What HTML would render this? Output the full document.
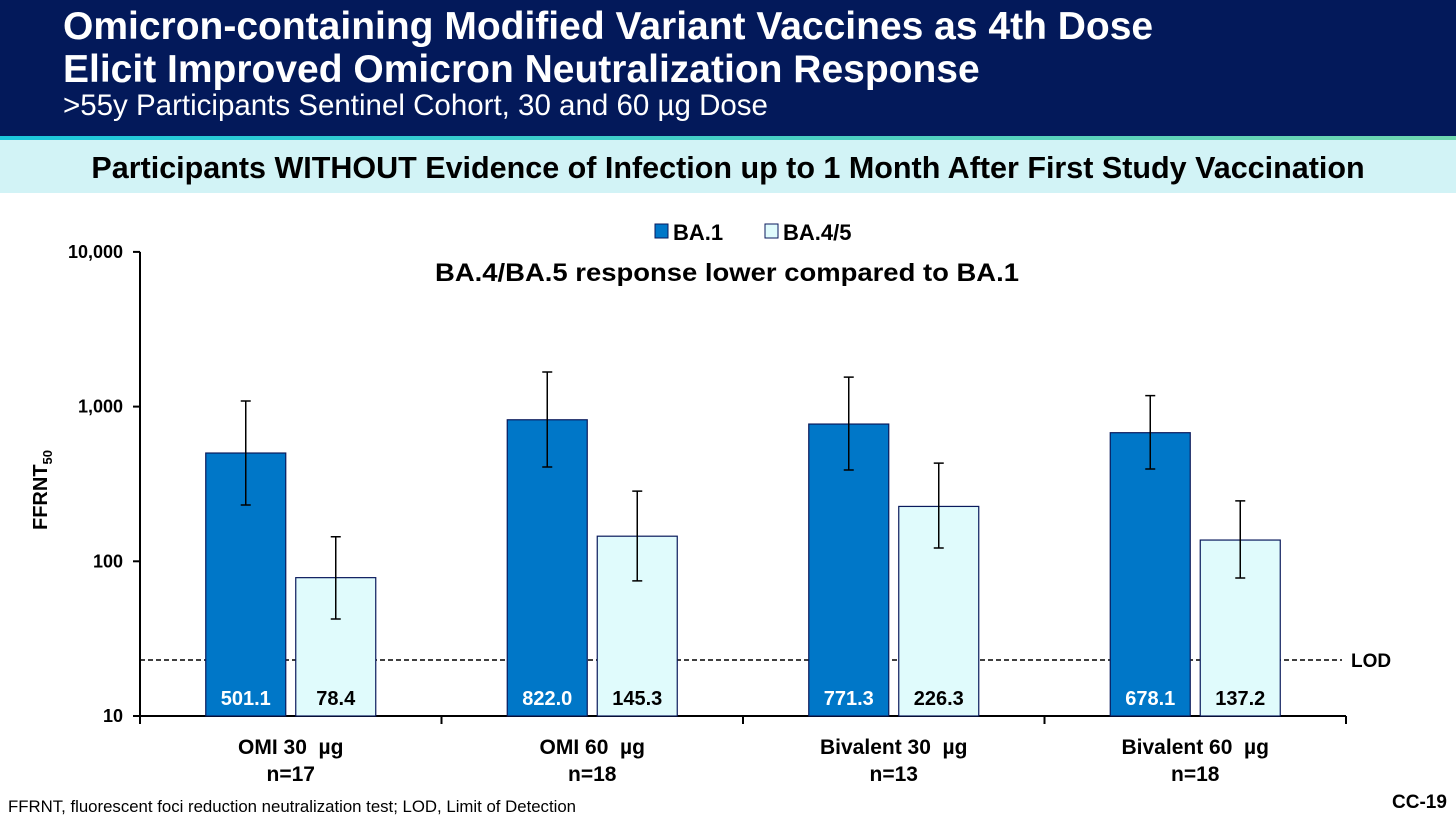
<!DOCTYPE html>
<html><head><meta charset="utf-8"><style>
body{margin:0;width:1456px;height:825px;background:#fff;font-family:"Liberation Sans",sans-serif;overflow:hidden;position:relative}
.hdr{position:absolute;left:0;top:0;width:1456px;height:136px;background:#03195a}
.t1{position:absolute;left:63px;color:#fff;font-weight:bold;font-size:39px;line-height:42px;white-space:nowrap}
.sub{position:absolute;left:63px;top:89px;color:#fff;font-size:29.5px;white-space:nowrap}
.line{position:absolute;top:136px;left:0;width:1456px;height:4px;background:linear-gradient(90deg,#1cc8dc,#6fd6b0)}
.band{position:absolute;top:140px;left:0;width:1456px;height:53px;background:#d2f3f6;text-align:center;font-weight:bold;font-size:30.5px;line-height:56px;color:#000;white-space:nowrap}
.foot{position:absolute;left:8px;top:797px;font-size:16.8px;white-space:nowrap}
.cc{position:absolute;left:1392px;top:792px;font-size:19px;font-weight:bold}
</style></head><body>
<div class="hdr">
<div class="t1" style="top:6px">Omicron-containing Modified Variant Vaccines as 4th Dose</div>
<div class="t1" style="top:49px">Elicit Improved Omicron Neutralization Response</div>
<div class="sub">&gt;55y Participants Sentinel Cohort, 30 and 60 µg Dose</div>
</div>
<div class="line"></div>
<div class="band">Participants WITHOUT Evidence of Infection up to 1 Month After First Study Vaccination</div>
<svg id="chart" width="1456" height="825" style="position:absolute;left:0;top:0"></svg>
<div class="foot">FFRNT, fluorescent foci reduction neutralization test; LOD, Limit of Detection</div>
<div class="cc">CC-19</div>
<script>
const categories=["OMI 30  µg","OMI 60  µg","Bivalent 30  µg","Bivalent 60  µg"];
const nLabels=["n=17","n=18","n=13","n=18"];
const ba1=[501.1,822.0,771.3,678.1];
const ba45=[78.4,145.3,226.3,137.2];
const ba1Lo=[231,407,389,395];
const ba1Hi=[1087,1675,1550,1177];
const ba45Lo=[42.4,74.7,122,78];
const ba45Hi=[144,284,431,246];
const yTicks=[10,100,1000,10000];
const yTickLabels=["10","100","1,000","10,000"];
const lod=23;
const NS="http://www.w3.org/2000/svg";
const svg=document.getElementById('chart');
const X0=140,X1=1346,Y10=716,DEC=154.7;
const y=v=>Y10-(Math.log10(v)-1)*DEC;
const gw=(X1-X0)/categories.length;
function el(t,a,txt){const e=document.createElementNS(NS,t);for(const k in a)e.setAttribute(k,a[k]);if(txt!==undefined)e.textContent=txt;svg.appendChild(e);return e;}
let e=el('line',{x1:X0,y1:y(10000),x2:X0,y2:Y10,stroke:'#000','stroke-width':2});

e=el('line',{x1:X0,y1:Y10,x2:X1,y2:Y10,stroke:'#000','stroke-width':2});

yTicks.forEach((t,i)=>{
 el('line',{x1:X0-7,y1:y(t),x2:X0,y2:y(t),stroke:'#000','stroke-width':2});
 const l=el('text',{x:X0-17,y:y(t)+6,'text-anchor':'end','font-size':18,'font-weight':'bold'},yTickLabels[i]);
 
});
for(let i=0;i<=categories.length;i++){el('line',{x1:X0+i*gw,y1:Y10,x2:X0+i*gw,y2:Y10+8,stroke:'#000','stroke-width':2});}
e=el('text',{x:0,y:0,transform:'translate(47,490) rotate(-90)','text-anchor':'middle','font-size':20,'font-weight':'bold'});
e.innerHTML='FFRNT<tspan font-size="13" dy="5">50</tspan>';

e=el('line',{x1:X0,y1:y(lod),x2:1342,y2:y(lod),stroke:'#000','stroke-width':1.5,'stroke-dasharray':'5,3'});

e=el('text',{x:1351,y:y(lod)+7,'font-size':19,'font-weight':'bold'},'LOD');

function bar(cx,v,lo,hi,fill,tc,name){
 const bw=80;
 const r=el('rect',{x:cx-bw/2,y:y(v),width:bw,height:Y10-y(v),fill:fill,stroke:'#0a1a5c','stroke-width':1.2});
 
 const g=el('path',{d:`M${cx},${y(lo)}V${y(hi)}M${cx-5},${y(lo)}H${cx+5}M${cx-5},${y(hi)}H${cx+5}`,stroke:'#000','stroke-width':1.5,fill:'none'});
 
 const t=el('text',{x:cx,y:705,'text-anchor':'middle','font-size':20,'font-weight':'bold',fill:tc},v.toFixed(1));
 
}
categories.forEach((c,i)=>{
 const cx=X0+gw*(i+0.5);
 bar(cx-45,ba1[i],ba1Lo[i],ba1Hi[i],'#0077c8','#fff','bar-ba1');
 bar(cx+45,ba45[i],ba45Lo[i],ba45Hi[i],'#e0fbfc','#000','bar-ba45');
 let t=el('text',{x:cx,y:754,'text-anchor':'middle','font-size':21,'font-weight':'bold',style:'white-space:pre'},c);
 
 t=el('text',{x:cx,y:781,'text-anchor':'middle','font-size':21,'font-weight':'bold'},nLabels[i]);
 
});
e=el('rect',{x:655,y:224,width:13,height:14,fill:'#0077c8',stroke:'#0a1a5c'});

e=el('text',{x:673,y:240,'font-size':22,'font-weight':'bold'},'BA.1');

e=el('rect',{x:765,y:224,width:13,height:14,fill:'#e0fbfc',stroke:'#0a1a5c'});

e=el('text',{x:783,y:240,'font-size':22,'font-weight':'bold'},'BA.4/5');

e=el('text',{x:435,y:281,'font-size':25,'font-weight':'bold',textLength:584,lengthAdjust:'spacingAndGlyphs'},'BA.4/BA.5 response lower compared to BA.1');

</script>
</body></html>
